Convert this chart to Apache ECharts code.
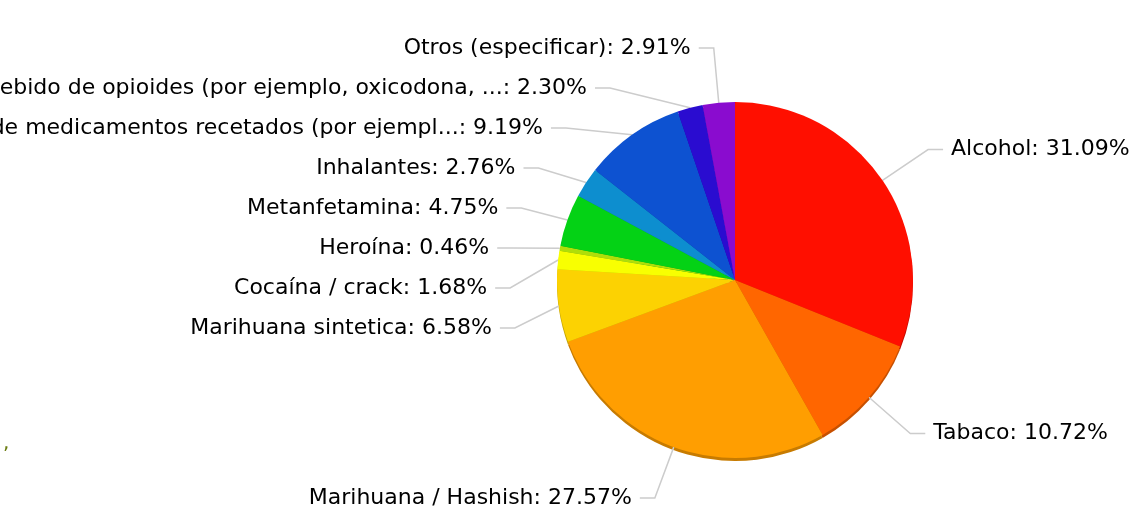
<!DOCTYPE html>
<html>
<head>
<meta charset="utf-8">
<script src="https://cdn.jsdelivr.net/npm/echarts@6/dist/echarts.min.js"></script>
<style>
html, body { margin: 0; padding: 0; background: #fff; }
#chart { width: 1139px; height: 518px; }
</style>
</head>
<body>
<div id="chart"></div>
<script>
// categories and values (percent)
var categories = [
    'Alcohol',
    'Tabaco',
    'Marihuana / Hashish',
    'Marihuana sintetica',
    'Cocaína / crack',
    'Heroína',
    'Metanfetamina',
    'Inhalantes',
    'Uso indebido de medicamentos recetados (por ejempl...',
    'Uso indebido de opioides (por ejemplo, oxicodona, ...',
    'Otros (especificar)'
];
var values = [31.09, 10.72, 27.57, 6.58, 1.68, 0.46, 4.75, 2.76, 9.19, 2.30, 2.91];
var colors = ['#FF0F00', '#FF6600', '#FF9E01', '#FCD202', '#F8FF01', '#B0DE09',
              '#04D215', '#0D8ECF', '#0D52D1', '#2A0CD0', '#8A0CCF'];

// darker copy of a colour, used for the rim under the pie
function darken(hex, f) {
    var n = parseInt(hex.slice(1), 16);
    var r = Math.round(((n >> 16) & 255) * f);
    var g = Math.round(((n >> 8) & 255) * f);
    var b = Math.round((n & 255) * f);
    return 'rgb(' + r + ',' + g + ',' + b + ')';
}

var pieData = categories.map(function (name, i) {
    return { name: name, value: values[i], itemStyle: { color: colors[i] } };
});
var rimData = categories.map(function (name, i) {
    return { name: name, value: values[i], itemStyle: { color: darken(colors[i], 0.78) } };
});

var myChart = echarts.init(document.getElementById('chart'));
myChart.setOption({
    animation: false,
    graphic: [{
        type: 'text',
        left: 3,
        top: 434,
        style: { text: ',', fill: '#6b7d12', font: '20px "DejaVu Sans"' }
    }],
    series: [
        {
            // rim / shadow below the pie
            type: 'pie',
            silent: true,
            z: 1,
            center: [735, 283],
            radius: 178,
            startAngle: 90,
            label: { show: false },
            labelLine: { show: false },
            data: rimData
        },
        {
            type: 'pie',
            z: 2,
            center: [735, 280],
            radius: 178,
            startAngle: 90,
            avoidLabelOverlap: true,
            itemStyle: { borderWidth: 0 },
            label: {
                formatter: function (p) {
                    return p.name + ': ' + p.value.toFixed(2) + '%';
                },
                color: '#000',
                fontFamily: 'DejaVu Sans',
                fontSize: 22,
                lineHeight: 38,
                distanceToLabelLine: 8,
                overflow: 'none'
            },
            labelLine: {
                length: 55,
                length2: 15,
                lineStyle: { color: '#cccccc', width: 1.5 }
            },
            data: pieData
        }
    ]
});
</script>
</body>
</html>
